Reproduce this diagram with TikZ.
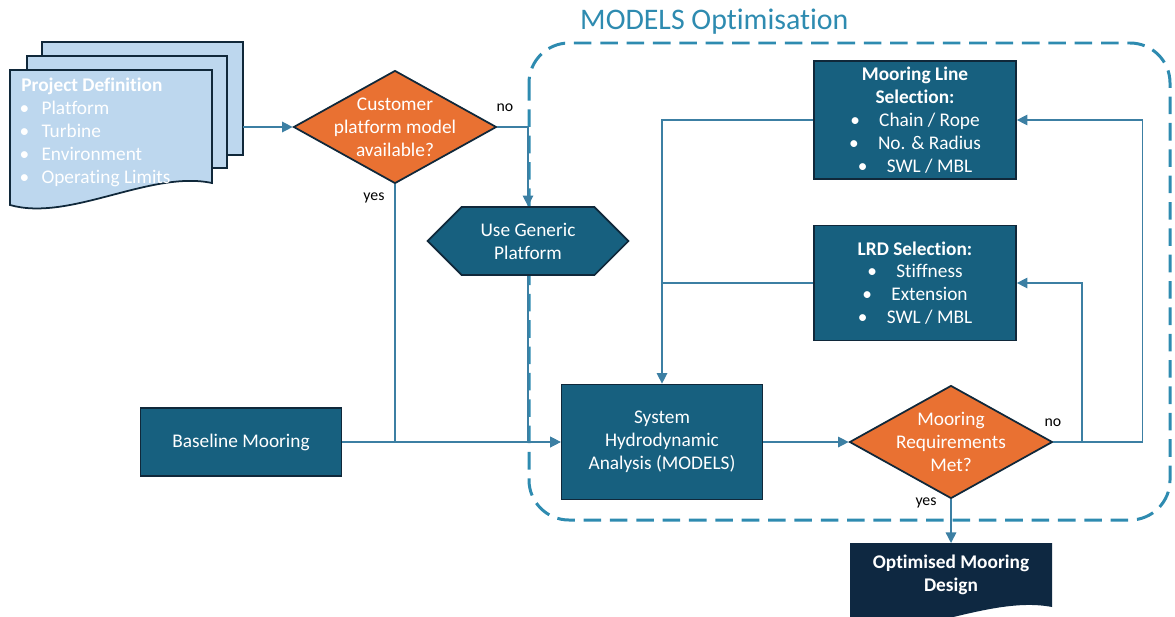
\documentclass[tikz,border=0pt]{standalone}
\usepackage{fontspec}
\setmainfont{Carlito}[Ligatures=NoCommon]
\usetikzlibrary{shapes.geometric, shapes.symbols, arrows.meta}
\definecolor{BoxTeal}{HTML}{17607F}
\definecolor{BoxBorder}{HTML}{10283A}
\definecolor{DecisionOrange}{HTML}{E97132}
\definecolor{SheetBlue}{HTML}{BDD7EE}
\definecolor{ResultNavy}{HTML}{0E2841}
\definecolor{FlowLine}{HTML}{3C7FA3}
\definecolor{FrameDash}{HTML}{2E8BB0}

\begin{document}
\begin{tikzpicture}[x=0.02cm, y=-0.02cm,
    every node/.style={font=\fontsize{11}{13}\selectfont, text=white, align=center},
    process/.style={draw=BoxBorder, line width=1pt, fill=BoxTeal, minimum width=4.02cm},
    decision/.style={diamond, aspect=1.8, draw=BoxBorder, line width=1pt, fill=DecisionOrange,
        minimum width=4.06cm, minimum height=2.26cm, inner sep=0pt},
    sheet/.style={draw=BoxBorder, line width=1pt, fill=SheetBlue},
    flow/.style={draw=FlowLine, line width=0.8pt, -{Triangle[length=6pt, width=6pt]}},
    link/.style={draw=FlowLine, line width=0.8pt},
    answer/.style={text=black, font=\fontsize{9}{10}\selectfont}]

    \useasboundingbox (0,0) rectangle (1175,616);
    \clip (0,0) rectangle (1175,616);

    % Marco MODELS
    \draw[FrameDash, line width=1.7pt, dash pattern=on 10pt off 5pt, rounded corners=0.8cm]
        (529,43) rectangle (1170,520);
    \node[anchor=west, text=FrameDash, font=\fontsize{17}{20}\selectfont] (frameTitle) at (574,22) {MODELS Optimisation};

    % Hojas de definicion del proyecto
    \draw[sheet] (42,42) rectangle (243,155);
    \draw[sheet] (27,56) rectangle (227,168);
    \draw[sheet] (10,70) -- (212,70) -- (212,183)
        .. controls (150,170) and (70,222) .. (10,205) -- cycle;
    \node[anchor=north west, align=left, inner sep=0pt] (defs) at (21,78)
        {\textbf{Project Definition}\\
         \hspace{-1pt}\textbullet\hspace{7pt}Platform\\
         \hspace{-1pt}\textbullet\hspace{7pt}Turbine\\
         \hspace{-1pt}\textbullet\hspace{7pt}Environment\\
         \hspace{-1pt}\textbullet\hspace{7pt}Operating Limits};
    \coordinate (defsOut) at (243,127);

    % Nodos
    \node[decision] (cust) at (395,127) {};
    \node (custText) at (cust) {Customer\\platform model\\available?};
    \node[signal, signal to=east and west, signal pointer angle=90, draw=BoxBorder, line width=1pt,
        fill=BoxTeal, minimum width=4.02cm, minimum height=1.36cm] (generic) at (528,241)
        {Use Generic\\Platform};
    \node[process, minimum height=1.36cm] (baseline) at (241,442) {Baseline Mooring};
    \node[process, minimum height=2.3cm] (hydro) at (662,442) {System\\Hydrodynamic\\Analysis (MODELS)};
    \node[decision] (reqs) at (951,442) {};
    \node (reqsText) at (reqs) {Mooring\\Requirements\\Met?};
    \node[process, minimum width=4.04cm, minimum height=2.32cm] (lineSel) at (915,120)
        {\textbf{Mooring Line}\\\textbf{Selection:}\\
         \textbullet\quad Chain / Rope\\\textbullet\quad No. \& Radius\\\textbullet\quad SWL / MBL};
    \node[process, minimum width=4.04cm, minimum height=2.3cm] (lrdSel) at (915,283)
        {\textbf{LRD Selection:}\\
         \textbullet\quad Stiffness\\\textbullet\quad Extension\\\textbullet\quad SWL / MBL};

    % Resultado
    \fill[ResultNavy] (850,543) -- (1052,543) -- (1052,607)
        .. controls (990,595) and (910,640) .. (850,630) -- cycle;
    \node[font=\fontsize{11}{13}\selectfont\bfseries] (opt) at (951,575) {Optimised Mooring\\Design};
    \coordinate (optTop) at (951,543);

    % Conectores
    \draw[flow] (defsOut) -- (cust.west);
    \draw[flow] (cust.east) -| (generic.north);
    \draw[flow] (cust.south) |- (hydro.west);
    \draw[link] (generic.south) -- (generic.south |- hydro.west);
    \draw[flow] (baseline.east) -- (hydro.west);
    \draw[flow] (hydro.east) -- (reqs.west);
    \coordinate (split) at (1082,442);
    \draw[flow] (reqs.east) -- ++(89,0) |- (lineSel.east);
    \draw[flow] (split) |- (lrdSel.east);
    \draw[flow] (lineSel.west) -| (hydro.north);
    \draw[link] (lrdSel.west) -- (lrdSel.west -| hydro.north);
    \draw[flow] (reqs.south) -- (optTop);

    \node[answer] (custNo) at (505,108) {no};
    \node[answer] (custYes) at (374,198) {yes};
    \node[answer] (reqsNo) at (1053,423) {no};
    \node[answer] (reqsYes) at (926,503) {yes};
\end{tikzpicture}
\end{document}
